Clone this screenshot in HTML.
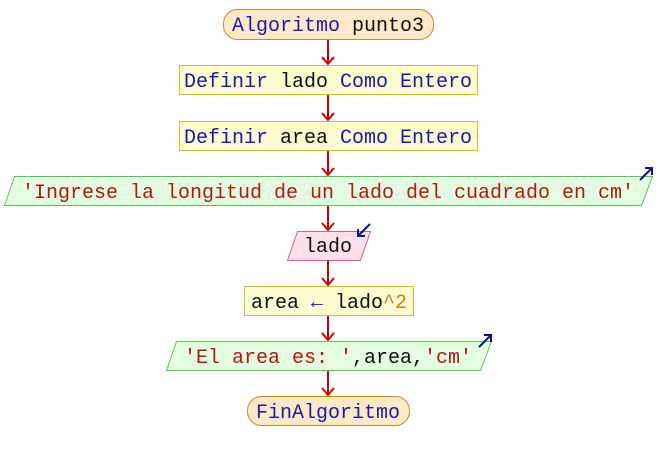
<!DOCTYPE html>
<html><head><meta charset="utf-8"><style>
html,body{margin:0;padding:0;background:#fff;width:656px;height:460px;overflow:hidden}
text{font-family:"Liberation Mono","Courier New",monospace;font-size:20px}
</style></head><body>
<svg width="656" height="460" xmlns="http://www.w3.org/2000/svg">
<g stroke="#cc0000" stroke-width="2" fill="none">
<line x1="328" y1="40" x2="328" y2="64"/><polyline points="322,57 328,64 334,57"/>
<line x1="328" y1="94" x2="328" y2="120"/><polyline points="322,113 328,120 334,113"/>
<line x1="328" y1="150" x2="328" y2="175"/><polyline points="322,168 328,175 334,168"/>
<line x1="328" y1="205" x2="328" y2="230"/><polyline points="322,223 328,230 334,223"/>
<line x1="328" y1="260" x2="328" y2="285"/><polyline points="322,278 328,285 334,278"/>
<line x1="328" y1="315" x2="328" y2="340"/><polyline points="322,333 328,340 334,333"/>
<line x1="328" y1="370" x2="328" y2="395"/><polyline points="322,388 328,395 334,388"/>
</g>
<rect x="223.5" y="9.5" width="210" height="30" rx="14" fill="#fde9c8" stroke="#c8883a"/>
<text x="328" y="31" text-anchor="middle"><tspan fill="#1a1aa8">Algoritmo</tspan><tspan fill="#111"> punto3</tspan></text>
<rect x="179.5" y="65.5" width="298" height="29" fill="#fdfbd0" stroke="#c8c040"/>
<text x="328" y="87" text-anchor="middle"><tspan fill="#1a1aa8">Definir</tspan><tspan fill="#111"> lado </tspan><tspan fill="#1a1aa8">Como Entero</tspan></text>
<rect x="179.5" y="121.5" width="298" height="29" fill="#fdfbd0" stroke="#c8c040"/>
<text x="328" y="143" text-anchor="middle"><tspan fill="#1a1aa8">Definir</tspan><tspan fill="#111"> area </tspan><tspan fill="#1a1aa8">Como Entero</tspan></text>
<polygon points="14.5,176.5 652.5,176.5 641.5,205.5 4.5,205.5" fill="#e4fde0" stroke="#5cc05c"/>
<text x="328" y="198" text-anchor="middle" fill="#b01818">'Ingrese la longitud de un lado del cuadrado en cm'</text>
<polygon points="297.5,231.5 370.5,231.5 360.5,260.5 287.5,260.5" fill="#fde0ec" stroke="#d06090"/>
<text x="328" y="252" text-anchor="middle" fill="#111">lado</text>
<rect x="244.5" y="286.5" width="169" height="29" fill="#fdfbd0" stroke="#c8c040"/>
<text x="329" y="308" text-anchor="middle"><tspan fill="#111">area </tspan><tspan fill="#1a1aa8">←</tspan><tspan fill="#111"> lado</tspan><tspan fill="#c08030">^2</tspan></text>
<polygon points="176.5,341.5 491.5,341.5 480.5,370.5 166.5,370.5" fill="#e4fde0" stroke="#5cc05c"/>
<text x="328" y="363" text-anchor="middle"><tspan fill="#b01818">'El area es: '</tspan><tspan fill="#111">,area,</tspan><tspan fill="#b01818">'cm'</tspan></text>
<rect x="247.5" y="396.5" width="162" height="29" rx="14" fill="#fde9c8" stroke="#c8883a"/>
<text x="328" y="418" text-anchor="middle" fill="#1a1aa8">FinAlgoritmo</text>
<g stroke="#10108a" stroke-width="2" fill="none">
<line x1="640" y1="180" x2="652" y2="168"/><polyline points="645,168 652,168 652,175"/>
<line x1="370" y1="224" x2="358" y2="236"/><polyline points="358,229 358,236 365,236"/>
<line x1="479" y1="347" x2="491" y2="335"/><polyline points="484,335 491,335 491,342"/>
</g>
</svg>
</body></html>
